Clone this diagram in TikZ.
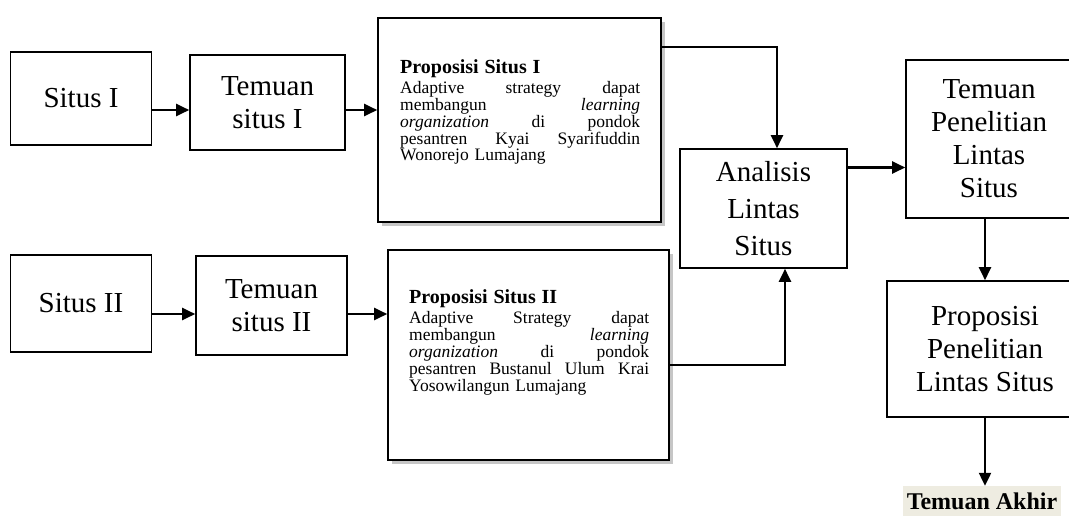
\documentclass[tikz,border=0pt]{standalone}
\usepackage{fontspec}
\setmainfont{Liberation Serif}
\usepackage{tikz}
\usetikzlibrary{arrows.meta}
\usetikzlibrary{shadows}
\definecolor{akhirbg}{RGB}{238,236,225}
\tikzstyle{bigbox}=[
    draw,
    line width=1.6pt,
    fill=white,
    inner sep=0pt,
    align=center,
    font=\fontsize{29}{33}\selectfont
]
\tikzstyle{propbox}=[
    draw,
    line width=1.6pt,
    fill=white,
    inner sep=0pt,
    drop shadow={shadow xshift=4pt, shadow yshift=-4pt, opacity=0.45}
]
\tikzstyle{proptext}=[
    anchor=north west,
    inner sep=0pt,
    text width=240pt,
    align=left,
    font=\fontsize{17.5}{15.8}\selectfont
]
\tikzstyle{conn}=[line width=2.2pt, -{Triangle[length=13pt,width=12pt]}]

\begin{document}
\begin{tikzpicture}[x=1pt,y=-1pt]
        \useasboundingbox (0,0) rectangle (1069,515);

        % situs I
        \node[bigbox, minimum width=141pt, minimum height=93pt] (s1) at (81,98.5) {Situs I};
        \node[bigbox, minimum width=155pt, minimum height=95pt] (t1) at (267.5,102.5) {Temuan\\situs I};
        \node[propbox, minimum width=283pt, minimum height=204pt] (p1) at (519.5,120) {};
        \node[proptext] (p1txt) at (400,59) {{\fontsize{20}{20}\bfseries Proposisi Situs I}\\[3pt]
            Adaptive\hfill strategy\hfill dapat\\
            membangun\hfill \textit{learning}\\
            \textit{organization}\hfill di\hfill pondok\\
            pesantren\hfill Kyai\hfill Syarifuddin\\
            Wonorejo Lumajang};

        % situs II
        \node[bigbox, minimum width=141pt, minimum height=97pt] (s2) at (81,303.5) {Situs II};
        \node[bigbox, minimum width=151pt, minimum height=99pt] (t2) at (271.5,305.5) {Temuan\\situs II};
        \node[propbox, minimum width=281pt, minimum height=210pt] (p2) at (528.5,355) {};
        \node[proptext] (p2txt) at (409,289) {{\fontsize{20}{20}\bfseries Proposisi Situs II}\\[3pt]
            Adaptive\hfill Strategy\hfill dapat\\
            membangun\hfill \textit{learning}\\
            \textit{organization}\hfill di\hfill pondok\\
            pesantren\hfill Bustanul\hfill Ulum\hfill Krai\\
            Yosowilangun Lumajang};

        % lintas situs
        \node[bigbox, minimum width=167pt, minimum height=119pt, font=\fontsize{29}{37}\selectfont] (an) at (763.5,208.5) {Analisis\\Lintas\\Situs};
        \node[bigbox, minimum width=166pt, minimum height=158pt] (tp) at (989,139) {Temuan\\Penelitian\\Lintas\\Situs};
        \node[bigbox, minimum width=196pt, minimum height=136pt] (pp) at (985,349) {Proposisi\\Penelitian\\Lintas Situs};
        \node[fill=akhirbg, minimum width=158pt, minimum height=30pt, inner sep=0pt,
              font=\fontsize{24}{24}\selectfont\bfseries] (ta) at (982,501) {Temuan Akhir};

        % arrows
        \draw[conn] ([yshift=-11.5pt]s1.east) -- ([yshift=-7.5pt]t1.west);
        \draw[conn] ([yshift=-7.5pt]t1.east) -- ([yshift=-7.5pt]t1.east -| p1.west);
        \draw[conn] ([yshift=-10.5pt]s2.east) -- ([yshift=-8.5pt]t2.west);
        \draw[conn] ([yshift=-8.5pt]t2.east) -- ([yshift=-8.5pt]t2.east -| p2.west);
        \draw[conn] ([yshift=-30pt]p1.north east) -| ([xshift=13.5pt]an.north);
        \draw[conn] ([yshift=-10pt]p2.east) -| ([xshift=21.5pt]an.south);
        \draw[conn] ([yshift=41pt]an.east) -- ([yshift=41pt]an.east -| tp.west);
        \draw[conn] (tp.south -| pp.north) -- (pp.north);
        \draw[conn] (pp.south) -- (ta.north -| pp.south);
\end{tikzpicture}
\end{document}
